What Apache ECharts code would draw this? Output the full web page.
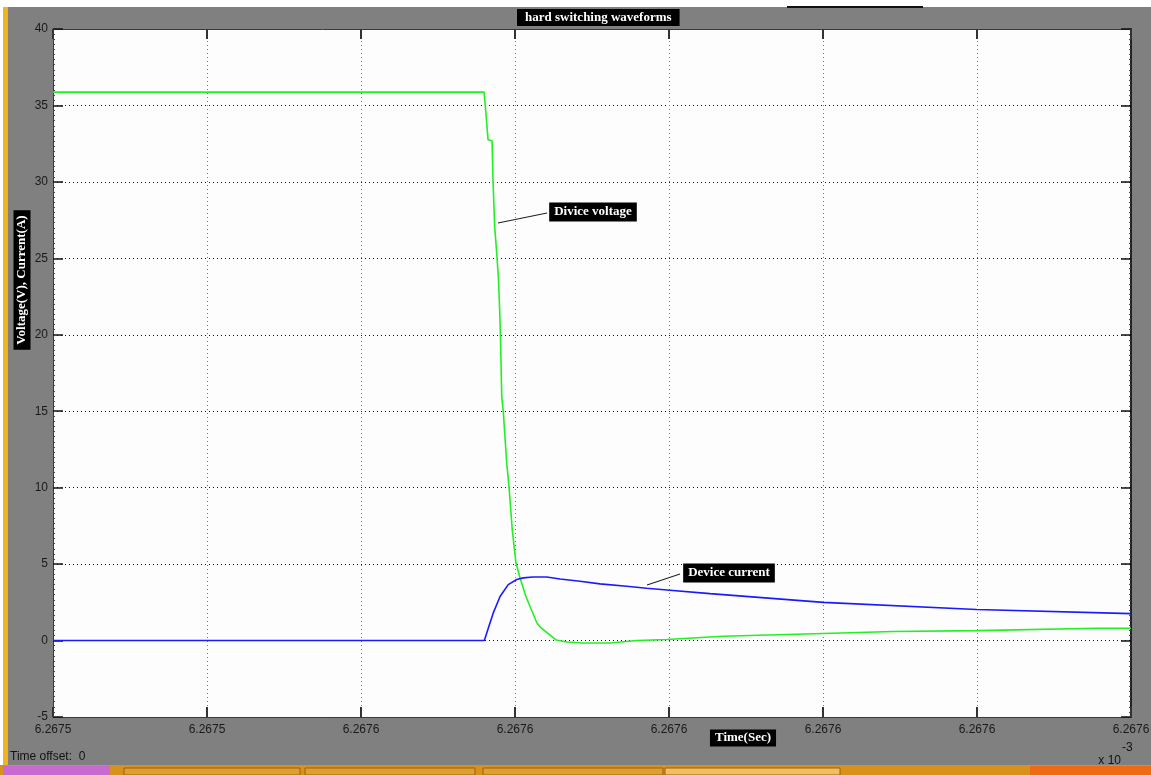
<!DOCTYPE html>
<html>
<head>
<meta charset="utf-8">
<script src="https://cdn.jsdelivr.net/npm/echarts@6/dist/echarts.min.js"></script>
<style>
  html, body { margin: 0; padding: 0; background: #ffffff; }
  #chart { width: 1151px; height: 775px; }
</style>
</head>
<body>
<div id="chart"></div>
<script>
// ---- data (x in grid divisions of the scope's time axis, y in V / A) ----
const chartTitle = 'hard switching waveforms';
const xAxisTitle = 'Time(Sec)';
const yAxisTitle = 'Voltage(V), Current(A)';
const xTickLabels = ['6.2675', '6.2675', '6.2676', '6.2676', '6.2676', '6.2676', '6.2676', '6.2676'];
const yMin = -5, yMax = 40, yStep = 5;

const voltageName = 'Divice voltage';
const voltageX = [0, 2.799, 2.812, 2.825, 2.851, 2.857, 2.868, 2.881, 2.893, 2.901, 2.906, 2.914, 2.924, 2.946, 2.961, 2.982, 3.006, 3.032, 3.071, 3.141, 3.162, 3.266, 3.338, 3.442, 3.617, 3.792, 3.985, 4.351, 5.0, 5.455, 6.0, 6.779, 7.0];
const voltageY = [35.87, 35.87, 34.4, 32.75, 32.69, 30.14, 27.07, 25.37, 23.6, 21.44, 19.67, 15.95, 14.97, 11.63, 10.07, 7.26, 5.1, 4.12, 2.88, 1.18, 0.9, 0.04, -0.09, -0.16, -0.16, 0.0, 0.07, 0.28, 0.46, 0.59, 0.65, 0.8, 0.8];

const currentName = 'Device current';
const currentX = [0, 2.801, 2.838, 2.859, 2.903, 2.956, 3.011, 3.054, 3.117, 3.206, 3.292, 3.422, 3.552, 3.725, 3.855, 4.006, 4.266, 5.002, 5.998, 7.0];
const currentY = [0, 0, 1.16, 1.81, 2.88, 3.66, 3.99, 4.1, 4.16, 4.16, 4.03, 3.88, 3.71, 3.55, 3.42, 3.29, 3.07, 2.5, 2.03, 1.76];

const timeOffsetText = 'Time offset:  0';
const exponentBase = 'x 10';
const exponentPower = '-3';

// ---- chart ----
const chart = echarts.init(document.getElementById('chart'), null, { renderer: 'canvas' });
const pairs = (xs, ys) => xs.map((x, i) => [x, ys[i]]);
const labelFont = { fontFamily: 'Liberation Sans, Arial, sans-serif', fontSize: 12, color: '#1a1a1a' };
const boxFont = 'bold 13px "Liberation Serif", "Times New Roman", serif';

const xBase = {
  type: 'value', min: 0, max: xTickLabels.length - 1, interval: 1,
  axisLine: { show: true, onZero: false, lineStyle: { color: '#3a3a3a', width: 1 } },
  axisTick: { show: true, inside: true, length: 10, lineStyle: { color: '#333', width: 2 } },
  minorTick: { show: false }
};
const yBase = {
  type: 'value', min: yMin, max: yMax, interval: yStep,
  axisLine: { show: true, onZero: false, lineStyle: { color: '#3a3a3a', width: 1 } },
  axisTick: { show: true, inside: true, length: 10, lineStyle: { color: '#111', width: 1.5 } },
  minorTick: { show: true, splitNumber: 15, length: 2, lineStyle: { color: '#444' } }
};

chart.setOption({
  backgroundColor: '#ffffff',
  animation: false,
  title: {
    text: chartTitle,
    left: 517, top: 9,
    backgroundColor: '#000000',
    padding: [2, 8, 2, 8],
    textStyle: { color: '#ffffff', fontFamily: 'Liberation Serif, serif', fontWeight: 'bold', fontSize: 13 }
  },
  grid: { left: 53, top: 29, width: 1078, height: 688, show: true, backgroundColor: '#fdfdfd', borderWidth: 0, containLabel: false, outerBoundsMode: 'none' },
  xAxis: [
    Object.assign({}, xBase, {
      position: 'bottom',
      axisLabel: Object.assign({ margin: 7, showMaxLabel: true, showMinLabel: true, formatter: v => xTickLabels[Math.round(v)] }, labelFont),
      splitLine: { show: true, lineStyle: { color: '#7a7a7a', width: 1, type: [1, 3] } }
    }),
    Object.assign({}, xBase, {
      position: 'top',
      axisLabel: { show: false },
      splitLine: { show: false }
    })
  ],
  yAxis: [
    Object.assign({}, yBase, {
      position: 'left',
      axisLabel: Object.assign({ margin: 5 }, labelFont),
      splitLine: { show: true, lineStyle: { color: '#111', width: 1, type: [1, 3] } }
    }),
    Object.assign({}, yBase, {
      position: 'right',
      axisLabel: { show: false },
      splitLine: { show: false },
      axisLine: { show: true, onZero: false, lineStyle: { color: '#222', width: 2 } }
    })
  ],
  series: [
    {
      name: voltageName, type: 'line', xAxisIndex: 0, yAxisIndex: 0,
      data: pairs(voltageX, voltageY), showSymbol: false, smooth: false,
      lineStyle: { color: '#22f022', width: 1.6 }, z: 3
    },
    {
      name: currentName, type: 'line', xAxisIndex: 0, yAxisIndex: 0,
      data: pairs(currentX, currentY), showSymbol: false, smooth: false,
      lineStyle: { color: '#1a1aff', width: 1.6 }, z: 4
    }
  ],
  graphic: [
    // window frame (scope figure background)
    { type: 'rect', z: -10, silent: true, shape: { x: 8, y: 7, width: 1143, height: 758 }, style: { fill: '#808080' } },
    { type: 'rect', z: -9, silent: true, shape: { x: 3, y: 7, width: 5, height: 758 }, style: { fill: '#f2b41c' } },
    { type: 'rect', z: -9, silent: true, shape: { x: 787, y: 6, width: 136, height: 2 }, style: { fill: '#111' } },
    // taskbar strip at the bottom
    { type: 'rect', z: -9, silent: true, shape: { x: 0, y: 765, width: 1151, height: 10 }, style: { fill: '#d8921c' } },
    { type: 'rect', z: -8, silent: true, shape: { x: 3, y: 766, width: 107, height: 9 }, style: { fill: '#c86ad0' } },
    { type: 'rect', z: -8, silent: true, shape: { x: 124, y: 768, width: 176, height: 7 }, style: { fill: '#e0a030', stroke: '#9a6010', lineWidth: 1 } },
    { type: 'rect', z: -8, silent: true, shape: { x: 305, y: 768, width: 170, height: 7 }, style: { fill: '#e0a030', stroke: '#9a6010', lineWidth: 1 } },
    { type: 'rect', z: -8, silent: true, shape: { x: 483, y: 768, width: 180, height: 7 }, style: { fill: '#e0a030', stroke: '#9a6010', lineWidth: 1 } },
    { type: 'rect', z: -8, silent: true, shape: { x: 665, y: 768, width: 175, height: 7 }, style: { fill: '#f0c060', stroke: '#9a6010', lineWidth: 1 } },
    { type: 'rect', z: -8, silent: true, shape: { x: 1030, y: 766, width: 121, height: 9 }, style: { fill: '#ee6a14' } },
    // axis titles
    { type: 'text', z: 10, x: 22, y: 280, rotation: Math.PI / 2,
      style: { text: yAxisTitle, font: boxFont, fill: '#ffffff', align: 'center', verticalAlign: 'middle', backgroundColor: '#000', padding: [2, 5, 2, 5] } },
    { type: 'text', z: 10, x: 743, y: 738,
      style: { text: xAxisTitle, font: boxFont, fill: '#ffffff', align: 'center', verticalAlign: 'middle', backgroundColor: '#000', padding: [2, 5, 2, 5] } },
    // annotations
    { type: 'line', z: 10, shape: { x1: 498, y1: 223, x2: 547, y2: 213 }, style: { stroke: '#222', lineWidth: 1.2 } },
    { type: 'text', z: 10, x: 593, y: 212,
      style: { text: voltageName, font: boxFont, fill: '#ffffff', align: 'center', verticalAlign: 'middle', backgroundColor: '#000', padding: [3, 5, 3, 5] } },
    { type: 'line', z: 10, shape: { x1: 647, y1: 585, x2: 680, y2: 574 }, style: { stroke: '#222', lineWidth: 1.2 } },
    { type: 'text', z: 10, x: 729, y: 573,
      style: { text: currentName, font: boxFont, fill: '#ffffff', align: 'center', verticalAlign: 'middle', backgroundColor: '#000', padding: [3, 5, 3, 5] } },
    // footer texts
    { type: 'text', z: 10, x: 10, y: 757,
      style: { text: timeOffsetText, font: '12px "Liberation Sans", Arial, sans-serif', fill: '#111', align: 'left', verticalAlign: 'middle' } },
    { type: 'text', z: 10, x: 1121, y: 761,
      style: { text: exponentBase, font: '12px "Liberation Sans", Arial, sans-serif', fill: '#111', align: 'right', verticalAlign: 'middle' } },
    { type: 'text', z: 10, x: 1122, y: 748,
      style: { text: exponentPower, font: '12px "Liberation Sans", Arial, sans-serif', fill: '#111', align: 'left', verticalAlign: 'middle' } }
  ]
});
</script>
</body>
</html>
